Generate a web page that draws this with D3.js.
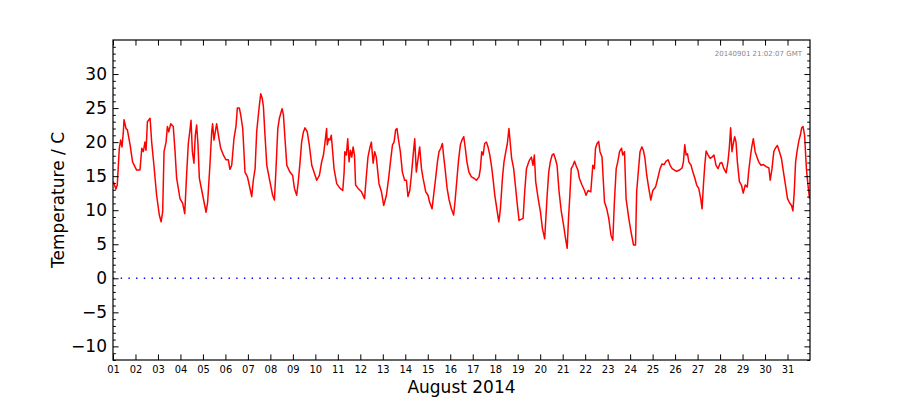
<!DOCTYPE html>
<html>
<head>
<meta charset="utf-8">
<script src="https://cdn.jsdelivr.net/npm/d3@7"></script>
<style>
  body { margin: 0; background: #fff; }
  svg { display: block; font-family: "DejaVu Sans", sans-serif; }
</style>
</head>
<body>
<div id="chart"></div>
<script>
// temperature readings, [day of August (fractional), deg C]
var aug01to11 = [[1.01,14.2],[1.13,13.1],[1.19,13.7],[1.28,19.1],[1.34,20.3],[1.40,19.3],[1.46,21.5],[1.49,23.3],[1.58,22.0],[1.64,21.8],[1.76,19.6],[1.87,17.1],[2.05,15.9],[2.20,15.9],[2.28,19.1],[2.35,18.6],[2.42,20.0],[2.47,18.8],[2.53,23.0],[2.65,23.5],[2.72,20.0],[2.82,16.6],[2.94,12.2],[3.06,9.3],[3.14,8.3],[3.21,9.8],[3.27,18.6],[3.36,20.0],[3.42,22.3],[3.48,21.5],[3.57,22.7],[3.68,22.3],[3.76,18.6],[3.83,14.7],[3.98,11.7],[4.10,11.0],[4.19,9.5],[4.28,15.6],[4.35,19.8],[4.43,22.0],[4.47,23.2],[4.53,18.6],[4.60,16.9],[4.66,21.0],[4.72,22.5],[4.78,19.6],[4.84,14.7],[4.99,12.2],[5.14,9.7],[5.21,11.2],[5.31,16.6],[5.39,21.5],[5.43,22.7],[5.49,20.3],[5.55,21.5],[5.61,22.7],[5.69,21.0],[5.79,19.1],[5.91,18.1],[6.03,17.4],[6.13,17.4],[6.20,16.0],[6.28,16.6],[6.38,20.5],[6.47,22.3],[6.53,25.0],[6.62,25.0],[6.68,24.0],[6.77,22.0],[6.87,15.6],[6.98,14.9],[7.06,13.7],[7.17,12.0],[7.24,14.4],[7.32,16.1],[7.39,21.5],[7.45,23.5],[7.51,25.4],[7.57,27.1],[7.64,26.4],[7.69,25.2],[7.76,21.0],[7.84,16.6],[7.98,14.2],[8.10,12.2],[8.18,11.5],[8.25,16.1],[8.33,22.0],[8.40,23.5],[8.46,24.2],[8.52,24.9],[8.58,24.0],[8.65,20.5],[8.73,16.6],[8.87,15.6],[8.99,15.1],[9.07,13.2],[9.17,12.2],[9.24,14.2],[9.32,17.1],[9.39,20.0],[9.47,21.5],[9.54,22.1],[9.64,21.5],[9.73,19.6],[9.84,16.6],[9.94,15.6],[10.06,14.4],[10.18,15.1],[10.28,17.1],[10.36,18.1],[10.43,20.0],[10.50,22.0],[10.53,19.6],[10.59,20.5],[10.65,20.3],[10.71,21.0],[10.77,18.6],[10.83,16.1],[10.95,13.9],[11.10,13.2],[11.22,12.9],[11.28,15.6]]

var aug11to21 = [[11.31,18.6],[11.38,18.1],[11.44,20.5],[11.50,17.1],[11.56,18.8],[11.62,17.8],[11.68,19.3],[11.74,18.1],[11.79,13.7],[11.90,13.2],[12.05,12.7],[12.19,11.7],[12.27,15.1],[12.34,17.8],[12.42,19.1],[12.49,20.0],[12.57,16.9],[12.64,18.6],[12.71,17.8],[12.83,13.9],[12.94,12.7],[13.04,10.7],[13.16,12.2],[13.26,14.7],[13.34,17.1],[13.43,19.6],[13.50,20.0],[13.57,21.8],[13.63,22.0],[13.69,20.5],[13.78,18.6],[13.87,15.6],[13.97,14.4],[14.05,14.4],[14.12,12.0],[14.20,12.9],[14.27,15.1],[14.35,18.1],[14.42,20.5],[14.49,15.6],[14.57,17.6],[14.64,19.3],[14.72,16.1],[14.79,14.7],[14.91,12.7],[15.01,12.2],[15.08,11.2],[15.19,10.2],[15.26,12.2],[15.35,14.7],[15.43,17.1],[15.50,18.6],[15.58,19.1],[15.65,19.8],[15.71,17.8],[15.77,16.1],[15.86,13.2],[15.95,11.5],[16.05,10.2],[16.15,9.3],[16.21,11.2],[16.30,14.7],[16.37,17.4],[16.45,19.6],[16.52,20.3],[16.60,20.8],[16.67,19.1],[16.74,17.1],[16.83,15.6],[16.94,14.9],[17.06,14.7],[17.16,14.4],[17.28,14.9],[17.34,16.1],[17.40,18.6],[17.46,18.1],[17.53,19.8],[17.61,20.0],[17.68,19.3],[17.76,18.1],[17.83,16.6],[17.90,14.7],[17.98,12.2],[18.09,9.8],[18.16,8.3],[18.23,10.2],[18.32,14.7],[18.39,17.1],[18.47,18.6],[18.54,19.8],[18.61,22.0],[18.67,19.8],[18.73,17.6],[18.82,16.1],[18.91,13.2],[18.97,11.2],[19.06,8.5],[19.24,8.8],[19.31,12.7],[19.39,16.1],[19.47,16.9],[19.53,17.4],[19.61,17.8],[19.68,16.6],[19.74,18.1],[19.80,14.2],[19.91,11.7],[20.01,9.8],[20.10,7.3],[20.20,5.8],[20.31,12.2],[20.38,15.6],[20.45,17.1],[20.53,18.1],[20.60,18.3],[20.67,17.6],[20.75,16.6],[20.84,12.7],[20.94,9.8],[21.04,7.8],[21.13,5.8],[21.20,4.4],[21.26,8.8],[21.32,12.2],[21.38,16.1],[21.46,16.6],[21.53,17.2],[21.61,16.4],[21.68,15.9]]

var aug21to31 = [[21.74,14.7],[21.86,13.7],[21.97,12.9],[22.04,12.2],[22.13,12.9],[22.25,12.7],[22.34,16.6],[22.41,16.1],[22.46,19.1],[22.53,19.8],[22.60,20.1],[22.66,18.6],[22.75,17.8],[22.86,11.2],[22.96,10.2],[23.05,8.8],[23.15,6.3],[23.23,5.6],[23.30,11.2],[23.38,16.1],[23.45,17.1],[23.53,18.6],[23.62,19.1],[23.67,18.1],[23.75,18.6],[23.82,11.7],[23.94,8.8],[24.04,6.8],[24.15,4.9],[24.24,4.9],[24.29,12.7],[24.35,15.1],[24.44,18.6],[24.52,19.3],[24.59,18.8],[24.66,17.6],[24.74,15.1],[24.83,13.2],[24.92,11.5],[25.01,12.9],[25.13,13.4],[25.23,14.7],[25.33,16.1],[25.42,16.8],[25.51,16.7],[25.60,17.2],[25.69,17.4],[25.78,16.6],[25.87,16.1],[25.97,15.9],[26.07,15.7],[26.19,15.9],[26.31,16.2],[26.37,17.1],[26.43,19.6],[26.49,18.1],[26.55,18.3],[26.61,17.1],[26.71,16.6],[26.79,15.6],[26.88,14.7],[26.96,13.7],[27.05,13.2],[27.14,11.7],[27.20,10.2],[27.26,13.7],[27.32,16.6],[27.38,18.7],[27.47,18.1],[27.56,17.6],[27.64,17.8],[27.73,18.1],[27.82,16.6],[27.91,16.1],[28.00,16.9],[28.08,17.0],[28.17,16.1],[28.27,15.5],[28.35,17.1],[28.41,19.1],[28.47,22.1],[28.53,18.6],[28.59,19.8],[28.65,20.8],[28.71,20.0],[28.77,17.1],[28.86,14.2],[28.95,13.7],[29.03,12.5],[29.12,13.7],[29.21,13.4],[29.27,15.6],[29.34,17.6],[29.41,19.3],[29.48,20.5],[29.56,18.6],[29.64,17.8],[29.72,17.1],[29.82,16.6],[29.93,16.7],[30.05,16.4],[30.17,16.2],[30.23,14.4],[30.31,16.1],[30.39,18.6],[30.46,19.1],[30.55,19.5],[30.64,18.6],[30.73,17.6],[30.82,15.6],[30.91,13.7],[31.00,11.7],[31.09,11.1],[31.18,10.7],[31.24,9.9],[31.30,12.7],[31.36,17.1],[31.43,18.8],[31.51,20.3],[31.57,21.0],[31.63,22.1],[31.69,22.3],[31.76,21.0],[31.84,16.1],[31.91,13.7],[31.98,11.7]]

var dayTicks = d3.range(1, 32)           // 01 .. 31
var tempTicks = [-10, -5, 0, 5, 10, 15, 20, 25, 30]
var xLabel = 'August 2014'
var yLabel = 'Temperature / C'
var stamp = '20140901 21:02:07 GMT'

var readings = aug01to11.concat(aug11to21, aug21to31)

// figure size and axes box
var W = 900, H = 400
var margin = { top: 40, right: 90, bottom: 40, left: 113 }
var width = W - margin.left - margin.right
var height = H - margin.top - margin.bottom

var svg = d3.select('#chart').append('svg')
    .attr('width', W)
    .attr('height', H)

var g = svg.append('g')
    .attr('transform', 'translate(' + margin.left + ',' + margin.top + ')')

var x = d3.scaleLinear().domain([1, 32]).range([0, width])
var y = d3.scaleLinear().domain([-12, 35]).range([height, 0])

g.append('clipPath').attr('id', 'clip')
    .append('rect').attr('width', width).attr('height', height)

// zero line
g.append('line')
    .attr('x1', 0).attr('x2', width)
    .attr('y1', y(0)).attr('y2', y(0))
    .attr('stroke', '#0000ff')
    .attr('stroke-width', 1.4)
    .attr('stroke-dasharray', '1.4,6.3')

// the temperature trace
var line = d3.line()
    .x(function (d) { return x(d[0]) })
    .y(function (d) { return y(d[1]) })

g.append('path')
    .datum(readings)
    .attr('clip-path', 'url(#clip)')
    .attr('d', line)
    .attr('fill', 'none')
    .attr('stroke', '#ff0000')
    .attr('stroke-width', 1.5)
    .attr('stroke-linejoin', 'round')

// ticks point inwards like matplotlib classic
var major = 5.6, minor = 2.8
var minorTemps = d3.range(-12, 36).filter(function (v) { return v % 5 !== 0 })

function styleAxis(sel, fontSize, family) {
    sel.select('.domain').remove()
    sel.selectAll('line').attr('stroke', '#000').attr('stroke-width', 1)
    sel.selectAll('text')
        .attr('fill', '#000')
        .style('font-size', fontSize + 'px')
        .style('font-family', family)
}

g.append('g')
    .call(d3.axisLeft(y).tickValues(tempTicks).tickSizeInner(-major).tickSizeOuter(0).tickPadding(6)
        .tickFormat(function (d) { return d < 0 ? '\u2212' + Math.abs(d) : d }))
    .call(styleAxis, 17, '"DejaVu Sans", sans-serif')

g.append('g')
    .call(d3.axisLeft(y).tickValues(minorTemps).tickSizeInner(-minor).tickSizeOuter(0).tickFormat(''))
    .call(styleAxis, 10, 'sans-serif')

g.append('g').attr('transform', 'translate(' + width + ',0)')
    .call(d3.axisRight(y).tickValues(tempTicks).tickSizeInner(-major).tickSizeOuter(0).tickFormat(''))
    .call(styleAxis, 10, 'sans-serif')

g.append('g').attr('transform', 'translate(' + width + ',0)')
    .call(d3.axisRight(y).tickValues(minorTemps).tickSizeInner(-minor).tickSizeOuter(0).tickFormat(''))
    .call(styleAxis, 10, 'sans-serif')

g.append('g').attr('transform', 'translate(0,' + height + ')')
    .call(d3.axisBottom(x).tickValues(dayTicks).tickSizeInner(-major).tickSizeOuter(0).tickPadding(5)
        .tickFormat(d3.format('02d')))
    .call(styleAxis, 11, '"DejaVu Sans Condensed", "DejaVu Sans", sans-serif')

g.append('g')
    .call(d3.axisTop(x).tickValues(dayTicks).tickSizeInner(-major).tickSizeOuter(0).tickFormat(''))
    .call(styleAxis, 10, 'sans-serif')

// axes frame
g.append('rect')
    .attr('width', width).attr('height', height)
    .attr('fill', 'none')
    .attr('stroke', '#000')
    .attr('stroke-width', 1.2)

// labels
svg.append('text')
    .attr('x', margin.left + width / 2)
    .attr('y', 393)
    .attr('text-anchor', 'middle')
    .style('font-size', '17px')
    .text(xLabel)

svg.append('text')
    .attr('transform', 'translate(64,' + (margin.top + height / 2) + ') rotate(-90)')
    .attr('text-anchor', 'middle')
    .style('font-size', '17px')
    .text(yLabel)

g.append('text')
    .attr('x', width - 8)
    .attr('y', 16)
    .attr('text-anchor', 'end')
    .attr('fill', '#888')
    .style('font-size', '7px')
    .text(stamp)
</script>
</body>
</html>
